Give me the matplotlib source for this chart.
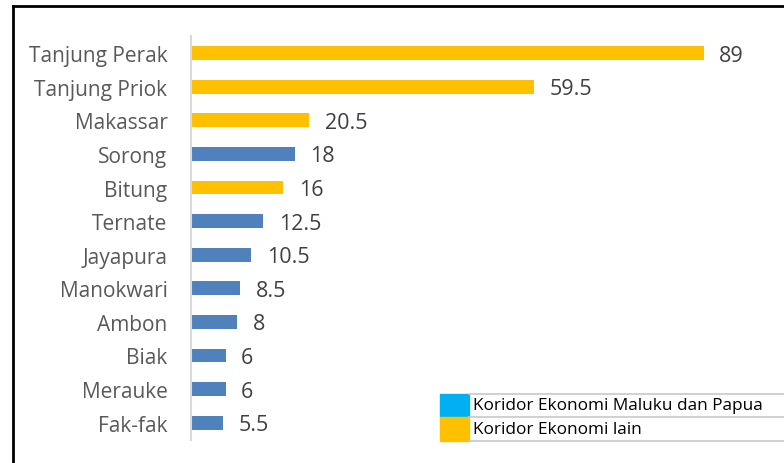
import matplotlib
matplotlib.use("Agg")
import matplotlib.pyplot as plt
from matplotlib.patches import Rectangle
from matplotlib.lines import Line2D

ports = ["Tanjung Perak", "Tanjung Priok", "Makassar", "Sorong", "Bitung", "Ternate",
         "Jayapura", "Manokwari", "Ambon", "Biak", "Merauke", "Fak-fak"]
values = [89, 59.5, 20.5, 18, 16, 12.5, 10.5, 8.5, 8, 6, 6, 5.5]
value_labels = ["89", "59.5", "20.5", "18", "16", "12.5", "10.5", "8.5", "8", "6", "6", "5.5"]
maluku_papua = [False, False, False, True, False, True, True, True, True, True, True, True]
legend_labels = ["Koridor Ekonomi Maluku dan Papua", "Koridor Ekonomi lain"]

BAR_BLUE = "#4F81BD"
LEG_BLUE = "#00B0F0"
YELLOW = "#FFC000"

plt.rcParams['font.family'] = ['Open Sans', 'DejaVu Sans']

W, H = 784, 464
fig = plt.figure(figsize=(W / 100, H / 100), dpi=100)
ax = fig.add_axes([191 / W, 1 - 440.5 / H, (767 - 191) / W, (440.5 - 37.3) / H])

ypos = list(range(len(ports)))
colors = [BAR_BLUE if m else YELLOW for m in maluku_papua]
ax.barh(ypos, values, height=0.41, color=colors)
ax.set_xlim(0, 100)
ax.set_ylim(len(ports) - 0.5, -0.5)
ax.set_yticks(ypos)
ax.set_yticklabels(ports, fontsize=15, color="#595959")
ax.tick_params(axis='y', length=0, pad=17)
ax.set_xticks([])
for s in ["top", "right", "bottom"]:
    ax.spines[s].set_visible(False)
ax.spines["left"].set_color("#D9D9D9")
ax.spines["left"].set_linewidth(1.5)

for y, v, t in zip(ypos, values, value_labels):
    ax.text(v + 2.7, y + 0.06, t, va='center', ha='left', fontsize=15.5, color="#404040")

# outer frame (left and top edges visible)
fig.add_artist(Line2D([12.5 / W, 12.5 / W], [0, 1 - 7 / H], color="black", lw=2, transform=fig.transFigure))
fig.add_artist(Line2D([12.5 / W, 1], [1 - 7 / H, 1 - 7 / H], color="black", lw=2, transform=fig.transFigure))

# legend
rows = [(395, 418), (418, 442)]
for (y0, y1), lab, c in zip(rows, legend_labels, [LEG_BLUE, YELLOW]):
    fig.add_artist(Rectangle((440 / W, 1 - y1 / H), 29 / W, (y1 - y0) / H, color=c,
                             transform=fig.transFigure))
    fig.text(473 / W, 1 - (y0 + y1) / 2 / H, lab, va='center', ha='left', fontsize=12.4, color="black")
for yl in [395, 418, 442]:
    fig.add_artist(Line2D([469 / W, 1], [1 - yl / H, 1 - yl / H], color="#C8C8C8", lw=1.2,
                          transform=fig.transFigure))

fig.savefig("out.png", dpi=100)
